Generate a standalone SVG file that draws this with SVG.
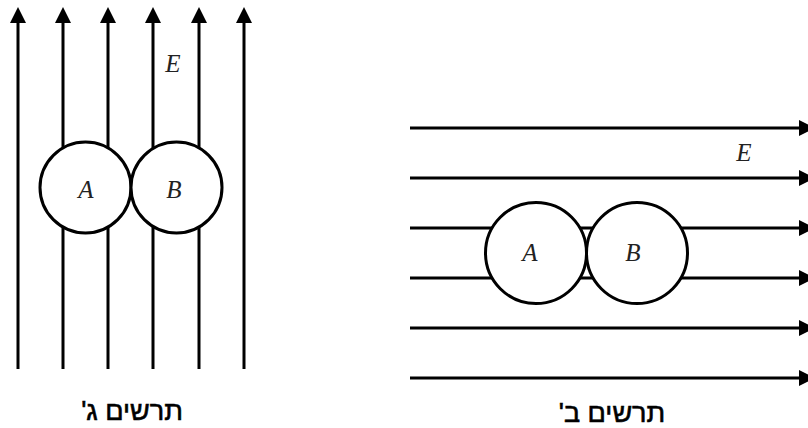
<svg xmlns="http://www.w3.org/2000/svg" width="808" height="428" viewBox="0 0 808 428">
<style>
.fl{stroke:#000;stroke-width:3;fill:none}
.ah{fill:#000}
.ball{fill:#fff;stroke:#000;stroke-width:3}
.lbl{font-family:"Liberation Serif","Times New Roman",serif;font-style:italic;font-size:25px;fill:#222}
.cap{font-family:"Liberation Sans",Arial,sans-serif;font-size:27px;fill:#000;stroke:#000;stroke-width:0.6}
</style>
<rect width="808" height="428" fill="#fff"/>
<g id="connectors">
  <g id="lines-g">
    <line class="fl" x1="18" y1="369" x2="18" y2="20"/><polygon class="ah" points="18,7 10,23 26,23"/>
    <line class="fl" x1="63" y1="369" x2="63" y2="20"/><polygon class="ah" points="63,7 55,23 71,23"/>
    <line class="fl" x1="108" y1="369" x2="108" y2="20"/><polygon class="ah" points="108,7 100,23 116,23"/>
    <line class="fl" x1="153" y1="369" x2="153" y2="20"/><polygon class="ah" points="153,7 145,23 161,23"/>
    <line class="fl" x1="199" y1="369" x2="199" y2="20"/><polygon class="ah" points="199,7 191,23 207,23"/>
    <line class="fl" x1="244" y1="369" x2="244" y2="20"/><polygon class="ah" points="244,7 236,23 252,23"/>
  </g>
  <g id="lines-b">
    <line class="fl" x1="410" y1="128" x2="802" y2="128"/><polygon class="ah" points="815,128 799,120 799,136"/>
    <line class="fl" x1="410" y1="178" x2="802" y2="178"/><polygon class="ah" points="815,178 799,170 799,186"/>
    <line class="fl" x1="410" y1="228" x2="802" y2="228"/><polygon class="ah" points="815,228 799,220 799,236"/>
    <line class="fl" x1="410" y1="278" x2="802" y2="278"/><polygon class="ah" points="815,278 799,270 799,286"/>
    <line class="fl" x1="410" y1="328" x2="802" y2="328"/><polygon class="ah" points="815,328 799,320 799,336"/>
    <line class="fl" x1="410" y1="378" x2="802" y2="378"/><polygon class="ah" points="815,378 799,370 799,386"/>
  </g>
</g>
<g id="g-A"><circle class="ball" cx="85.5" cy="187.5" r="45.5"/><text class="lbl" x="86" y="198" text-anchor="middle">A</text></g>
<g id="g-B"><circle class="ball" cx="176.5" cy="187.5" r="45.5"/><text class="lbl" x="174" y="198" text-anchor="middle">B</text></g>
<g id="g-E"><text class="lbl" x="173" y="72" text-anchor="middle">E</text></g>
<g id="b-A"><circle class="ball" cx="536" cy="253" r="50.5"/><text class="lbl" x="530" y="261" text-anchor="middle">A</text></g>
<g id="b-B"><circle class="ball" cx="637" cy="253" r="50.5"/><text class="lbl" x="633" y="261" text-anchor="middle">B</text></g>
<g id="b-E"><text class="lbl" x="744" y="161" text-anchor="middle">E</text></g>
<g id="cap-g"><text class="cap" x="132" y="420" text-anchor="middle" direction="rtl">תרשים ג'</text></g>
<g id="cap-b"><text class="cap" x="612" y="422" text-anchor="middle" direction="rtl">תרשים ב'</text></g>
</svg>
